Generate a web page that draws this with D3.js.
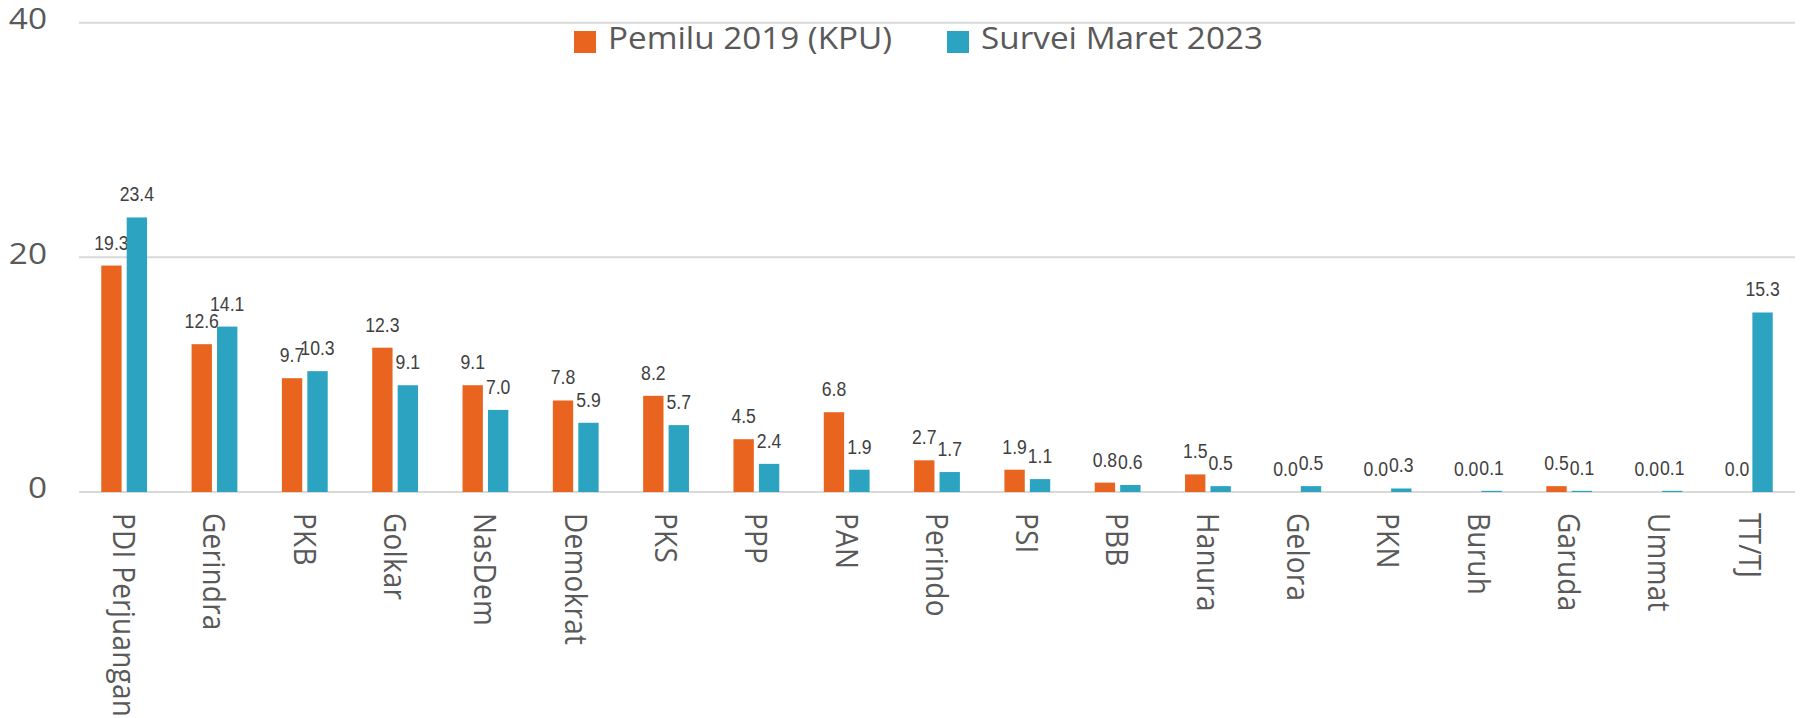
<!DOCTYPE html>
<html>
<head>
<meta charset="utf-8">
<script src="https://cdn.jsdelivr.net/npm/d3@7"></script>
<style>
  body { margin: 0; background: #fff; }
  svg { display: block; }
</style>
</head>
<body>
<svg id="chart"></svg>
<script>
var width = 1805,
    height = 718;

// data
var parties = ['PDI Perjuangan', 'Gerindra', 'PKB', 'Golkar', 'NasDem', 'Demokrat', 'PKS', 'PPP', 'PAN',
  'Perindo', 'PSI', 'PBB', 'Hanura', 'Gelora', 'PKN', 'Buruh', 'Garuda', 'Ummat', 'TT/TJ'];
var pemilu2019 = [19.3, 12.6, 9.7, 12.3, 9.1, 7.8, 8.2, 4.5, 6.8, 2.7, 1.9, 0.8, 1.5, 0.0, 0.0, 0.0, 0.5, 0.0, 0.0];
var survei2023 = [23.4, 14.1, 10.3, 9.1, 7.0, 5.9, 5.7, 2.4, 1.9, 1.7, 1.1, 0.6, 0.5, 0.5, 0.3, 0.1, 0.1, 0.1, 15.3];
var seriesNames = ['Pemilu 2019 (KPU)', 'Survei Maret 2023'];
var yTicks = [0, 20, 40];

var colors = ['#E9651F', '#2CA3C0'];
var textColor = '#595959';

var svg = d3.select('#chart')
  .attr('width', width)
  .attr('height', height);

var x = d3.scaleBand()
  .domain(parties)
  .range([79, 1795]);

var x1 = d3.scaleBand()
  .domain([0, 1])
  .range([-22.9, 22.9])
  .paddingInner(0.2);

var y = d3.scaleLinear()
  .domain([0, 40])
  .range([492, 22.7]);

// gridlines
svg.append('g')
  .selectAll('line')
  .data(yTicks)
  .join('line')
  .attr('x1', 79)
  .attr('x2', 1795)
  .attr('y1', d => y(d))
  .attr('y2', d => y(d))
  .style('stroke', '#d9d9d9')
  .style('stroke-width', 2);

// y tick labels
svg.append('g')
  .selectAll('g')
  .data(yTicks)
  .join('g')
  .attr('transform', d => 'translate(47,' + (y(d) - 4) + ')')
  .append('text')
  .attr('transform', 'scale(1.15,1)')
  .attr('dy', '0.36em')
  .attr('text-anchor', 'end')
  .style('font-family', '"Open Sans", sans-serif')
  .style('font-size', '29px')
  .style('fill', textColor)
  .text(d => d);

// bars + labels per series (labels of first series sit under second series bars)
var seriesData = [pemilu2019, survei2023];
seriesData.forEach(function(vals, s) {
  var g = svg.append('g');
  g.selectAll('rect')
    .data(vals)
    .join('rect')
    .attr('x', (d, i) => x(parties[i]) + x.bandwidth() / 2 + x1(s))
    .attr('width', x1.bandwidth())
    .attr('y', d => y(d))
    .attr('height', d => y(0) - y(d))
    .style('fill', colors[s]);

  g.selectAll('g.lbl')
    .data(vals)
    .join('g')
    .attr('class', 'lbl')
    .attr('transform', (d, i) => 'translate(' + (x(parties[i]) + x.bandwidth() / 2 + x1(s) + x1.bandwidth() / 2) + ',' + (y(d) - 16) + ')')
    .append('text')
    .attr('transform', 'scale(0.86,1)')
    .attr('text-anchor', 'middle')
    .style('font-family', '"Liberation Sans", Arial, sans-serif')
    .style('font-size', '20.5px')
    .style('fill', '#404040')
    .text(d => d.toFixed(1));
});

// category labels, rotated
svg.append('g')
  .selectAll('g')
  .data(parties)
  .join('g')
  .attr('transform', d => 'translate(' + (x(d) + x.bandwidth() / 2) + ',513) rotate(90)')
  .append('text')
  .attr('transform', 'scale(0.9,1)')
  .attr('dy', '0.36em')
  .style('font-family', '"Open Sans", sans-serif')
  .style('font-size', '31px')
  .style('letter-spacing', '0.3px')
  .style('fill', textColor)
  .text(d => d);

// legend
var legendX = [574, 947];
var legendW = [284, 282];
var legend = svg.append('g');
seriesNames.forEach(function(name, s) {
  legend.append('rect')
    .attr('x', legendX[s])
    .attr('y', 31)
    .attr('width', 22)
    .attr('height', 22)
    .style('fill', colors[s]);
  legend.append('text')
    .attr('x', legendX[s] + 34)
    .attr('y', 49)
    .attr('textLength', legendW[s])
    .attr('lengthAdjust', 'spacingAndGlyphs')
    .style('font-family', '"Open Sans", sans-serif')
    .style('font-size', '31px')
    .style('fill', textColor)
    .text(name);
});
</script>
</body>
</html>
